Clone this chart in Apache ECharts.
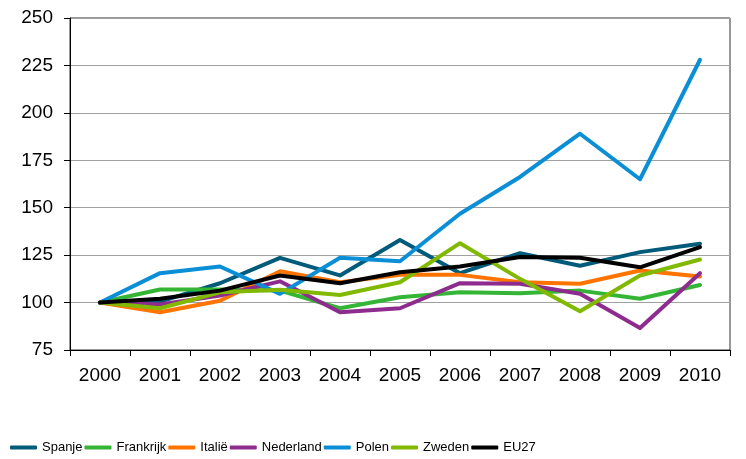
<!DOCTYPE html>
<html>
<head>
<meta charset="utf-8">
<script src="https://cdn.jsdelivr.net/npm/echarts@6/dist/echarts.min.js"></script>
<style>
  html, body { margin: 0; padding: 0; background: #fff; }
  #chart { width: 746px; height: 459px; }
</style>
</head>
<body>
<div id="chart"></div>
<script>
var years = ['2000','2001','2002','2003','2004','2005','2006','2007','2008','2009','2010'];

var spanje    = [100, 100.5, 110.2, 123.6, 114.3, 133, 115.5, 126, 119.4, 126.6, 131];
var frankrijk = [100, 106.9, 106.9, 106.3, 97, 102.8, 105.4, 104.9, 106.3, 102, 109.3];
var italie    = [100, 94.9, 101, 116.5, 110.7, 114.6, 114.6, 110.7, 109.9, 116.9, 113.7];
var nederland = [100, 99, 103.7, 111.2, 94.9, 97, 110.2, 109.9, 104.6, 86.6, 115.5];
var polen     = [100, 115.5, 119, 104.6, 123.6, 121.8, 146.8, 166.2, 189, 165, 228];
var zweden    = [100, 97, 105.4, 106.7, 104, 110.7, 131.3, 112.5, 95.4, 114.3, 122.7];
var eu27      = [100, 102, 106.3, 114.3, 110.2, 116, 119, 124, 123.6, 118.6, 129.2];

var names  = ['Spanje','Frankrijk','Italië','Nederland','Polen','Zweden','EU27'];
var values = [spanje, frankrijk, italie, nederland, polen, zweden, eu27];
var colors = ['#005b7a','#35b535','#ff7300','#8e2b8e','#0a8fd6','#80b900','#000000'];

var chart = echarts.init(document.getElementById('chart'));

var series = names.map(function (n, i) {
    return {
        name: n,
        type: 'line',
        data: values[i],
        symbol: 'none',
        animation: false,
        lineStyle: { width: 4, color: colors[i], cap: 'round', join: 'round' },
        itemStyle: { color: colors[i] }
    };
});

var option = {
    backgroundColor: '#fff',
    animation: false,
    grid: {
        left: 70, right: 16, top: 18, bottom: 109,
        show: true, borderColor: '#333', borderWidth: 1
    },
    legend: {
        bottom: 0,
        left: 5,
        itemWidth: 27,
        itemHeight: 4,
        itemGap: 2,
        icon: 'roundRect',
        textStyle: { fontFamily: 'Liberation Sans', fontSize: 13, color: '#000' },
        data: names
    },
    xAxis: {
        type: 'category',
        data: years,
        boundaryGap: true,
        axisLine: { lineStyle: { color: '#000', width: 1 } },
        axisTick: { show: true, interval: 0, length: 6, lineStyle: { color: '#000' } },
        axisLabel: { interval: 0, margin: 16, fontFamily: 'Liberation Sans', fontSize: 19, color: '#000' }
    },
    yAxis: {
        type: 'value',
        min: 75,
        max: 250,
        interval: 25,
        axisLine: { show: true, lineStyle: { color: '#000', width: 1 } },
        axisTick: { show: true, length: 6, lineStyle: { color: '#000' } },
        axisLabel: { margin: 17, fontFamily: 'Liberation Sans', fontSize: 19, color: '#000' },
        splitLine: { show: true, lineStyle: { color: '#a0a0a0', width: 1 } }
    },
    series: series
};
chart.setOption(option);
</script>
</body>
</html>
